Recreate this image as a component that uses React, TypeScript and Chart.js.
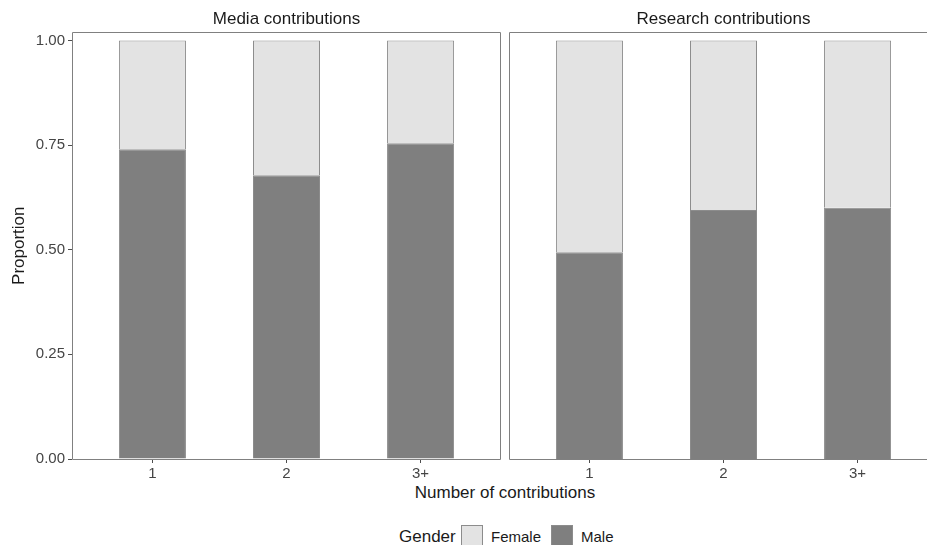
import React, { useEffect, useRef } from "react";
import { Chart, registerables } from "chart.js";
Chart.register(...registerables);

const categories = ["1", "2", "3+"];
const mediaMale = [0.74, 0.678, 0.754];
const mediaFemale = [0.26, 0.322, 0.246];
const researchMale = [0.494, 0.595, 0.6];
const researchFemale = [0.506, 0.405, 0.4];
const yTicks = [0, 0.25, 0.5, 0.75, 1.0];
const facetTitles = ["Media contributions", "Research contributions"];
const legendTitle = "Gender";
const legendLabels = ["Female", "Male"];
const xTitle = "Number of contributions";
const yTitle = "Proportion";

const FONT = "'Liberation Sans', Arial, Helvetica, sans-serif";
const MALE = "#7f7f7f";
const FEMALE = "#e3e3e3";
const BAR_BORDER = "#8c8c8c";
const TEXT = "#1a1a1a";
const TICK_TEXT = "#454545";
const TICK = "#4d4d4d";

const panelBorder = {
  id: "panelBorder",
  afterDatasetsDraw(chart: any) {
    const { ctx, chartArea: a } = chart;
    ctx.save();
    ctx.strokeStyle = "#808080";
    ctx.lineWidth = 1;
    const l = Math.round(a.left) + 0.5;
    const t = Math.round(a.top) + 0.5;
    const r = Math.round(a.right) - 0.5;
    const b = Math.round(a.bottom) + 0.5;
    ctx.beginPath();
    ctx.moveTo(l, t);
    ctx.lineTo(r, t);
    ctx.lineTo(r, b);
    ctx.lineTo(l, b);
    ctx.closePath();
    ctx.stroke();
    ctx.restore();
  },
};

function makeConfig(male: number[], female: number[], showY: boolean, title: string): any {
  return {
    type: "bar",
    data: {
      datasets: [
        {
          label: legendLabels[1],
          data: male.map((v, i) => ({ x: i + 1, y: v })),
          backgroundColor: MALE,
          borderColor: BAR_BORDER,
          borderWidth: 1,
          barPercentage: 0.5,
          categoryPercentage: 1,
        },
        {
          label: legendLabels[0],
          data: female.map((v, i) => ({ x: i + 1, y: v })),
          backgroundColor: FEMALE,
          borderColor: BAR_BORDER,
          borderWidth: 1,
          barPercentage: 0.5,
          categoryPercentage: 1,
        },
      ],
    },
    options: {
      animation: false,
      responsive: false,
      devicePixelRatio: 1,
      layout: { padding: { left: showY ? 0 : 4, right: 4, top: 0, bottom: 0 } },
      plugins: {
        legend: { display: false },
        tooltip: { enabled: false },
        title: {
          display: true,
          text: title,
          fullSize: false,
          color: TEXT,
          font: { size: 17, family: FONT, weight: "normal" },
          padding: { top: 9, bottom: 3 },
        },
      },
      scales: {
        x: {
          type: "linear",
          stacked: true,
          offset: false,
          min: 0.4,
          max: 3.6,
          afterBuildTicks: (s: any) => {
            s.ticks = categories.map((_, i) => ({ value: i + 1 }));
          },
          afterFit: (s: any) => {
            s.height = 21;
          },
          ticks: {
            callback: (v: any) => categories[Math.round(v) - 1],
            color: TICK_TEXT,
            font: { size: 15, family: FONT },
            padding: 2,
            autoSkip: false,
            maxRotation: 0,
          },
          grid: { offset: false, drawOnChartArea: false, drawTicks: true, tickLength: 4, tickColor: TICK },
          border: { display: false },
        },
        y: {
          type: "linear",
          stacked: true,
          display: showY,
          min: 0,
          max: 1.0191,
          afterBuildTicks: (s: any) => {
            s.ticks = yTicks.map((v) => ({ value: v }));
          },
          afterFit: (s: any) => {
            if (showY) s.width = 72;
          },
          ticks: {
            callback: (v: any) => Number(v).toFixed(2),
            color: TICK_TEXT,
            font: { size: 15, family: FONT },
            padding: 3,
          },
          grid: { drawOnChartArea: false, drawTicks: true, tickLength: 4, tickColor: TICK },
          border: { display: false },
          title: {
            display: true,
            text: yTitle,
            color: TEXT,
            font: { size: 17, family: FONT },
            padding: { top: 9, bottom: 0 },
          },
        },
      },
    },
    plugins: [panelBorder],
  };
}

export default function App() {
  const ref1 = useRef<HTMLCanvasElement>(null);
  const ref2 = useRef<HTMLCanvasElement>(null);

  useEffect(() => {
    Chart.defaults.font.family = FONT;
    const c1 = new Chart(ref1.current!, makeConfig(mediaMale, mediaFemale, true, facetTitles[0]));
    const c2 = new Chart(ref2.current!, makeConfig(researchMale, researchFemale, false, facetTitles[1]));
    return () => {
      c1.destroy();
      c2.destroy();
    };
  }, []);

  const textStyle: React.CSSProperties = {
    position: "absolute",
    fontFamily: FONT,
    color: TEXT,
    whiteSpace: "nowrap",
    lineHeight: "20px",
  };

  return (
    <div
      style={{
        position: "fixed",
        left: 0,
        top: 0,
        width: 927,
        height: 545,
        overflow: "hidden",
        background: "#fff",
      }}
    >
      <canvas
        ref={ref1}
        width={505}
        height={480}
        style={{ position: "absolute", left: 0, top: 0, width: 505, height: 480 }}
      />
      <canvas
        ref={ref2}
        width={437}
        height={480}
        style={{ position: "absolute", left: 505, top: 0, width: 437, height: 480 }}
      />
      <div style={{ ...textStyle, left: 305, width: 400, top: 483, textAlign: "center", fontSize: 17 }}>
        {xTitle}
      </div>
      <div style={{ ...textStyle, left: 399, top: 527, fontSize: 17 }}>{legendTitle}</div>
      <div
        style={{
          position: "absolute",
          left: 461,
          top: 525,
          width: 20,
          height: 22,
          background: FEMALE,
          border: "1px solid " + BAR_BORDER,
        }}
      />
      <div style={{ ...textStyle, left: 491, top: 527, fontSize: 15 }}>{legendLabels[0]}</div>
      <div
        style={{
          position: "absolute",
          left: 551,
          top: 525,
          width: 20,
          height: 22,
          background: MALE,
          border: "1px solid " + BAR_BORDER,
        }}
      />
      <div style={{ ...textStyle, left: 581, top: 527, fontSize: 15 }}>{legendLabels[1]}</div>
    </div>
  );
}
